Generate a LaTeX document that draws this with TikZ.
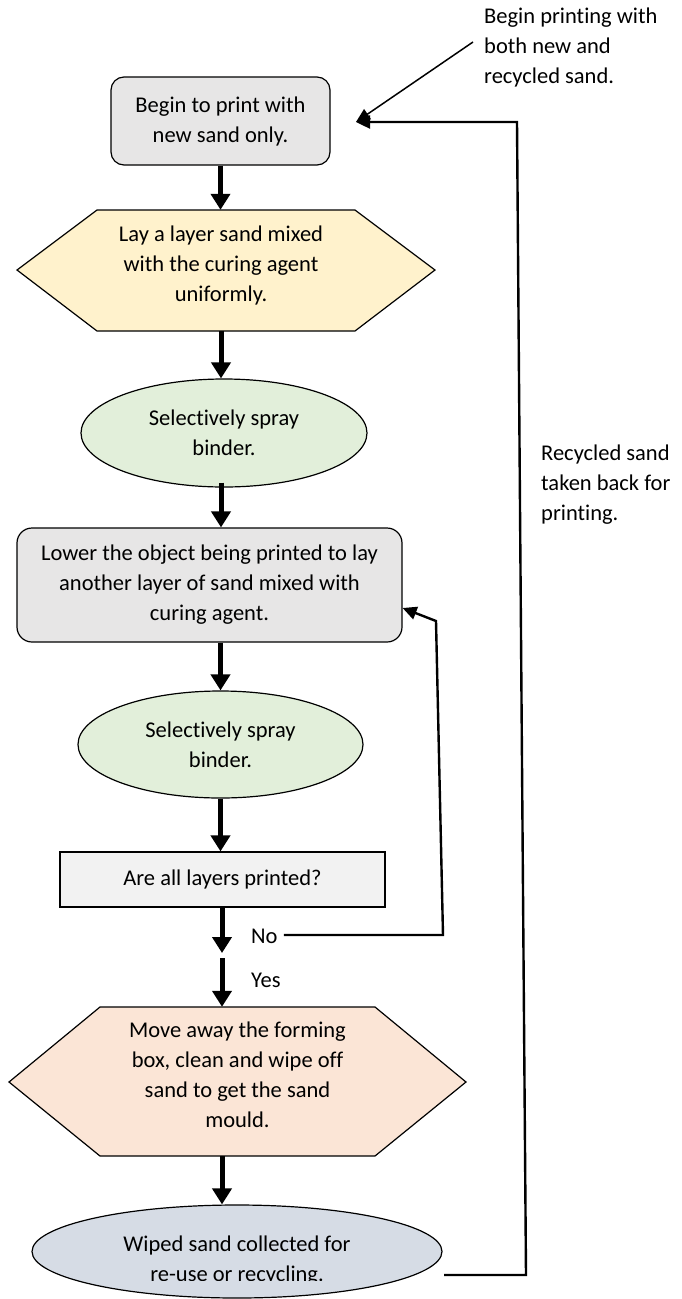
\documentclass[tikz,border=0pt]{standalone}
\usepackage{fontspec}
\setmainfont{Carlito}[Ligatures=NoCommon]
\usetikzlibrary{shapes.geometric,arrows.meta,calc}
\definecolor{boxgray}{HTML}{E7E6E6}
\definecolor{hexyellow}{HTML}{FFF2CC}
\definecolor{ovalgreen}{HTML}{E2EFDA}
\definecolor{qgray}{HTML}{F2F2F2}
\definecolor{hexsalmon}{HTML}{FBE5D6}
\definecolor{ovalblue}{HTML}{D6DCE5}
\newcommand{\hexpad}{\rule[-14pt]{0pt}{1pt}}
\begin{document}
\begin{tikzpicture}[x=1pt,y=-1pt,
  every node/.style={font=\fontsize{22.5}{30}\selectfont, inner sep=0pt, align=center},
  shapeline/.style={draw=black, line width=1.2pt},
  rbox/.style={shapeline, rectangle, rounded corners=13pt, fill=boxgray},
  qbox/.style={shapeline, rectangle, fill=qgray},
  oval/.style={shapeline, ellipse},
  hexlabel/.style={rectangle},
  flow/.style={line width=5pt, -{Triangle[width=19pt,length=16pt]}},
  thinflow/.style={line width=2.4pt, -{Triangle[width=13pt,length=14pt]}},
  diagflow/.style={line width=1.5pt, -{Triangle[width=12pt,length=14pt]}},
  sidetext/.style={align=left, anchor=north west}
]
\useasboundingbox (0,0) rectangle (681,1299);
\clip (0,0) rectangle (681,1299);

% start box
\node[rbox, minimum width=219pt, minimum height=88pt] (n1) at (220.5,121) {Begin to print with\\new sand only.};

% hexagon 1
\draw[shapeline, fill=hexyellow] (17,270) -- (97,210) -- (355,210) -- (435,270) -- (355,331) -- (97,331) -- cycle;
\node[hexlabel, minimum width=258pt, minimum height=121pt] (h1) at (221,270.5) {Lay a layer sand mixed\\with the curing agent\\uniformly.\hexpad};

% ellipse 1
\node[oval, fill=ovalgreen, minimum width=286pt, minimum height=108pt] (e1) at (224,433) {Selectively spray\\binder.};

% box 2
\node[rbox, rounded corners=15pt, minimum width=385pt, minimum height=114pt] (n2) at (209.5,585) {Lower the object being printed to lay\\another layer of sand mixed with\\curing agent.};

% ellipse 2
\node[oval, fill=ovalgreen, minimum width=285pt, minimum height=107pt] (e2) at (220.5,744.5) {Selectively spray\\binder.};

% question box
\node[qbox, minimum width=325pt, minimum height=55pt] (n3) at (222.5,879.5) {Are all layers printed?};

% No / Yes
\node[anchor=west] (no) at (251,936) {No};
\node[anchor=west] (yes) at (251,980) {Yes};

% hexagon 2
\draw[shapeline, fill=hexsalmon] (9,1082) -- (100,1007) -- (375,1007) -- (466,1082) -- (375,1156) -- (100,1156) -- cycle;
\node[hexlabel, minimum width=275pt, minimum height=149pt] (h2) at (237.5,1081.5) {Move away the forming\\box, clean and wipe off\\sand to get the sand\\mould.\hexpad};

% ellipse 3 (text clipped at the bottom as in the reference)
\node[oval, fill=ovalblue, minimum width=410pt, minimum height=93pt] (e3) at (237,1251.5) {};
\begin{scope}
  \clip (0,1190) rectangle (681,1280);
  \node (e3t) at (237,1261) {Wiped sand collected for\\re-use or recycling.};
\end{scope}

% side labels
\node[sidetext] (lab1) at (484,8) {Begin printing with\\both new and\\recycled sand.};
\node[sidetext] (lab2) at (541,445) {Recycled sand\\taken back for\\printing.};

% main flow arrows
\coordinate (m1) at (222,953);
\coordinate (m2) at (222,958);
\draw[flow] (n1.south) -- (n1.south |- h1.north);
\draw[flow] (h1.south) -- (h1.south |- e1.north);
\draw[flow] ($(e1.south -| h1.south)+(0,-5)$) -- (h1.south |- n2.north);
\draw[flow] (n2.south -| e2.north) -- (e2.north);
\draw[flow] (e2.south) -- (e2.south |- n3.north);
\draw[flow] (n3.south -| m1) -- (m1);
\draw[flow] (m2) -- (m2 |- h2.north);
\draw[flow] (h2.south -| m2) -- (m2 |- e3.north);

% feedback loop from "No"
\coordinate (fb1) at (443,935);
\coordinate (fb2) at (436,621);
\draw[thinflow] ($(no.east)+(6,-1)$) -- (fb1) -- (fb2) -- ($(n2.east)+(0,23)$);

% recycling loop
\coordinate (rc0) at (444,1275);
\coordinate (rc1) at (526,1275);
\coordinate (rc2) at (517,122);
\coordinate (tipA) at (356,122);
\draw[thinflow] (rc0) -- (rc1) -- (rc2) -- (tipA);
\coordinate (dg) at (473,42);
\draw[diagflow] (dg) -- (tipA);
\end{tikzpicture}
\end{document}
